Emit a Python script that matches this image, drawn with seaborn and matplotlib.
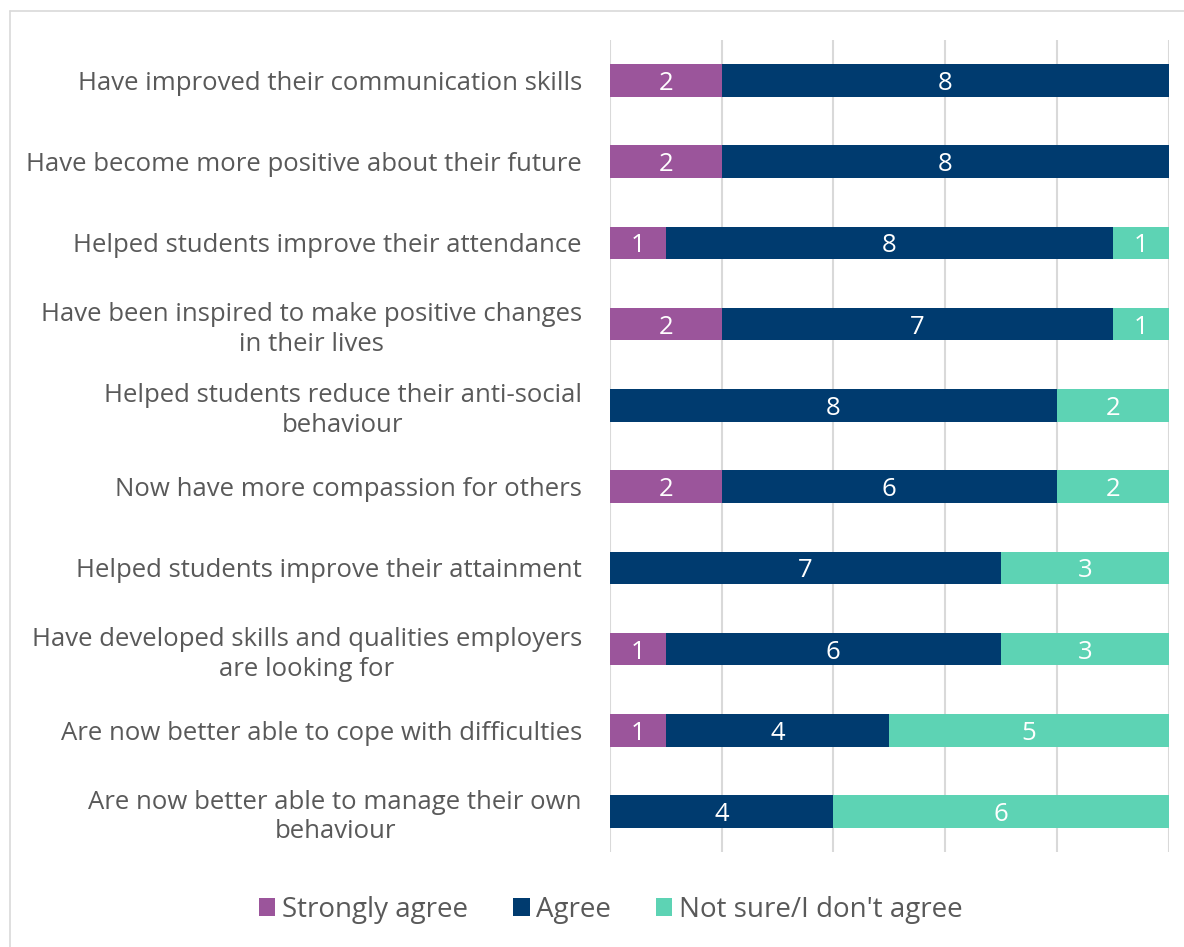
import matplotlib
matplotlib.use("Agg")
import matplotlib.pyplot as plt
from matplotlib.lines import Line2D
from matplotlib.patches import Patch
import seaborn as sns
import pandas as pd
import numpy as np

categories = [
    "Have improved their communication skills",
    "Have become more positive about their future",
    "Helped students improve their attendance",
    "Have been inspired to make positive changes\nin their lives",
    "Helped students reduce their anti-social\nbehaviour",
    "Now have more compassion for others",
    "Helped students improve their attainment",
    "Have developed skills and qualities employers\nare looking for",
    "Are now better able to cope with difficulties",
    "Are now better able to manage their own\nbehaviour",
]
strongly_agree = [2, 2, 1, 2, 0, 2, 0, 1, 1, 0]
agree = [8, 8, 8, 7, 8, 6, 7, 6, 4, 4]
not_sure = [0, 0, 1, 1, 2, 2, 3, 3, 5, 6]
series_names = ["Strongly agree", "Agree", "Not sure/I don't agree"]
colors = ["#9B559B", "#003B6F", "#5DD3B4"]
ticks = [0, 2, 4, 6, 8, 10]

sns.set_theme(style="white")
plt.rcParams["font.family"] = ["Open Sans", "DejaVu Sans"]

df = pd.DataFrame({"cat": categories, "sa": strongly_agree, "ag": agree, "ns": not_sure})
df["c1"] = df["sa"]
df["c2"] = df["sa"] + df["ag"]
df["c3"] = df["sa"] + df["ag"] + df["ns"]

fig = plt.figure(figsize=(11.84, 9.47), dpi=100)
ax = fig.add_axes([0.515, 0.100, 0.472, 0.858])

for col, color in zip(["c3", "c2", "c1"], colors[::-1]):
    sns.barplot(data=df, x=col, y="cat", orient="h", color=color, width=0.4,
                saturation=1, ax=ax, linewidth=0, zorder=3)

# value labels
for i, row in df.iterrows():
    lefts = [0, row["c1"], row["c2"]]
    vals = [row["sa"], row["ag"], row["ns"]]
    for l, v in zip(lefts, vals):
        if v > 0:
            ax.text(l + v / 2, i, str(v), ha="center", va="center_baseline",
                    color="white", fontsize=18.5, zorder=5)

ax.set_xlim(0, 10)
ax.set_ylim(9.5, -0.5)
ax.set_xticks(ticks)
ax.set_xticklabels([])
ax.tick_params(axis="x", length=0)
ax.tick_params(axis="y", length=0, pad=20, labelsize=18.5, labelcolor="#595959")
ax.set_xlabel("")
ax.set_ylabel("")
ax.grid(axis="x", color="#D9D9D9", linewidth=1.5, zorder=0)
ax.grid(axis="y", visible=False)
for s in ax.spines.values():
    s.set_visible(False)
for lab in ax.get_yticklabels():
    lab.set_horizontalalignment("right")
    lab.set_multialignment("center")
    lab.set_linespacing(1.25)

handles = [Patch(facecolor=c, edgecolor="none") for c in colors]
fig.legend(handles, series_names, loc="center", bbox_to_anchor=(0.516, 0.039),
           ncol=3, frameon=False, fontsize=20, labelcolor="#595959",
           handlelength=0.6, handleheight=0.6, handletextpad=0.25, columnspacing=1.6)

# outer border lines (chart frame)
fig.add_artist(Line2D([10 / 1184, 1], [1 - 11 / 947] * 2, transform=fig.transFigure,
                      color="#D9D9D9", linewidth=1.2))
fig.add_artist(Line2D([10 / 1184] * 2, [0, 1 - 11 / 947], transform=fig.transFigure,
                      color="#D9D9D9", linewidth=1.2))

fig.savefig("out.png", dpi=100, facecolor="white")
